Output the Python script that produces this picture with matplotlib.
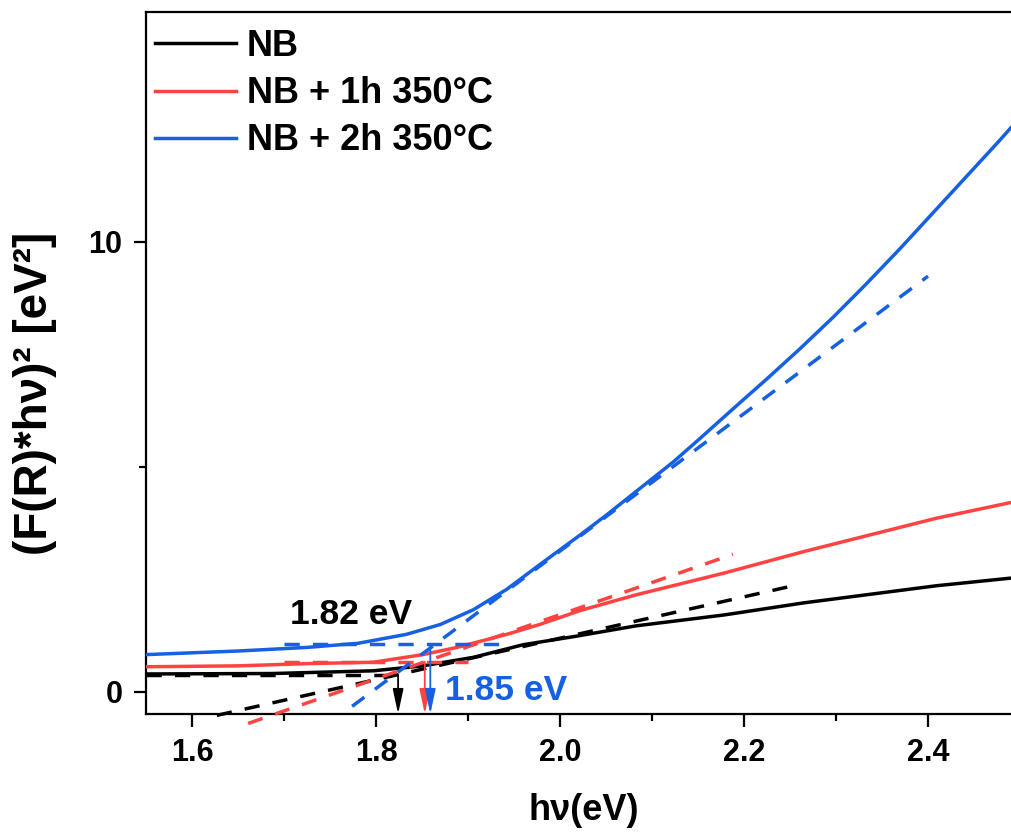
import matplotlib
matplotlib.use("Agg")
import matplotlib.pyplot as plt
from matplotlib.ticker import MultipleLocator, FixedLocator, FormatStrFormatter

plt.rcParams['font.family'] = ['Liberation Sans', 'DejaVu Sans']
plt.rcParams['font.weight'] = 'bold'

# Tauc-type curves: photon energy (eV) vs (F(R)*hv)^2
e_nb = [1.55, 1.688, 1.797, 1.851, 1.906, 1.96, 2.015, 2.083, 2.178, 2.265, 2.337, 2.409, 2.49]
f_nb = [0.39, 0.40, 0.46, 0.57, 0.76, 1.04, 1.22, 1.46, 1.70, 1.97, 2.16, 2.35, 2.52]

e_1h = [1.55, 1.65, 1.725, 1.797, 1.851, 1.888, 1.942, 1.978, 2.022, 2.083, 2.178, 2.265, 2.337, 2.409, 2.49]
f_1h = [0.55, 0.57, 0.62, 0.65, 0.82, 0.98, 1.27, 1.49, 1.80, 2.15, 2.63, 3.11, 3.48, 3.85, 4.20]

e_2h = [1.55, 1.65, 1.725, 1.78, 1.833, 1.87, 1.906, 1.942, 1.978, 2.022, 2.051, 2.123,
        2.152, 2.188, 2.225, 2.261, 2.297, 2.333, 2.37, 2.406, 2.442, 2.478, 2.491]
f_2h = [0.82, 0.90, 0.98, 1.07, 1.27, 1.49, 1.82, 2.27, 2.82, 3.48, 3.93, 5.10,
        5.62, 6.28, 6.95, 7.62, 8.32, 9.06, 9.85, 10.65, 11.45, 12.25, 12.55]

labels = ["NB", "NB + 1h 350°C", "NB + 2h 350°C"]
colors = ["#000000", "#FF4242", "#1560E3"]

# linear fits of the absorption edge (end points) and baselines
tan_e = [[1.627, 2.247], [1.661, 2.188], [1.774, 2.400]]
tan_f = [[-0.53, 2.32], [-0.71, 3.05], [-0.33, 9.23]]
base_e = [[1.55, 1.824], [1.70, 1.90], [1.70, 1.935]]
base_f = [0.375, 0.66, 1.06]

# band gaps read at the crossing of fit and baseline
gaps = [1.824, 1.853, 1.859]
gap_texts = ["1.82 eV", "1.85 eV"]

xmin, xmax = 1.55, 2.4913
ymin, ymax = -0.5, 15.1

fig = plt.figure(figsize=(10.12, 8.35), dpi=100)
ax = fig.add_axes([0.1443, 0.1449, 0.8557, 0.8407])

for e, f, c, lab in zip([e_nb, e_1h, e_2h], [f_nb, f_1h, f_2h], colors, labels):
    ax.plot(e, f, color=c, lw=2.5, label=lab, zorder=3, solid_joinstyle='round')

dash = (0, (4.4, 3.8))
for te, tf, be, bf, c in zip(tan_e, tan_f, base_e, base_f, colors):
    ax.plot(te, tf, color=c, lw=2.5, ls=dash, clip_on=False, zorder=4)
    ax.plot(be, [bf, bf], color=c, lw=2.5, ls=dash, zorder=4)

for g, bf, c in zip(gaps, base_f, colors):
    ax.annotate("", xy=(g, ymin), xytext=(g, bf),
                arrowprops=dict(arrowstyle="-|>,head_length=1.5,head_width=0.32",
                                color=c, lw=1.3, shrinkA=0, shrinkB=0,
                                mutation_scale=10),
                zorder=5)

ax.text(1.773, 1.72, gap_texts[0], color=colors[0], fontsize=25.5,
        fontweight='bold', ha='center', va='center')
ax.text(1.875, 0.03, gap_texts[1], color=colors[2], fontsize=25.5,
        fontweight='bold', ha='left', va='center')

ax.set_xlim(xmin, xmax)
ax.set_ylim(ymin, ymax)

ax.xaxis.set_major_locator(MultipleLocator(0.2))
ax.xaxis.set_minor_locator(MultipleLocator(0.1))
ax.xaxis.set_major_formatter(FormatStrFormatter('%.1f'))
ax.yaxis.set_major_locator(MultipleLocator(10))
ax.yaxis.set_minor_locator(FixedLocator([5]))

ax.tick_params(which='major', direction='out', length=9, width=1.6,
               labelsize=22, pad=8)
ax.tick_params(which='minor', direction='out', length=5, width=1.6)
ax.tick_params(top=False, right=False)
for lbl in ax.get_xticklabels() + ax.get_yticklabels():
    lbl.set_fontweight('bold')

for side in ['left', 'bottom', 'top']:
    ax.spines[side].set_linewidth(1.6)
ax.spines['right'].set_visible(False)

ax.set_xlabel("hν(eV)", fontsize=26, fontweight='bold')
ax.xaxis.set_label_coords(0.505, -0.113)
ax.set_ylabel("(F(R)*hν)² [eV²]", fontsize=33, fontweight='bold',
              va='center', ha='center')
ax.yaxis.set_label_coords(-0.128, 0.457)

leg = ax.legend(loc='upper left', bbox_to_anchor=(0.0104, 0.976), frameon=False,
                fontsize=26, handlelength=2.25, handletextpad=0.30,
                labelspacing=0.34, borderpad=0, borderaxespad=0)
for t in leg.get_texts():
    t.set_fontweight('bold')

fig.savefig("out.png", dpi=100)
